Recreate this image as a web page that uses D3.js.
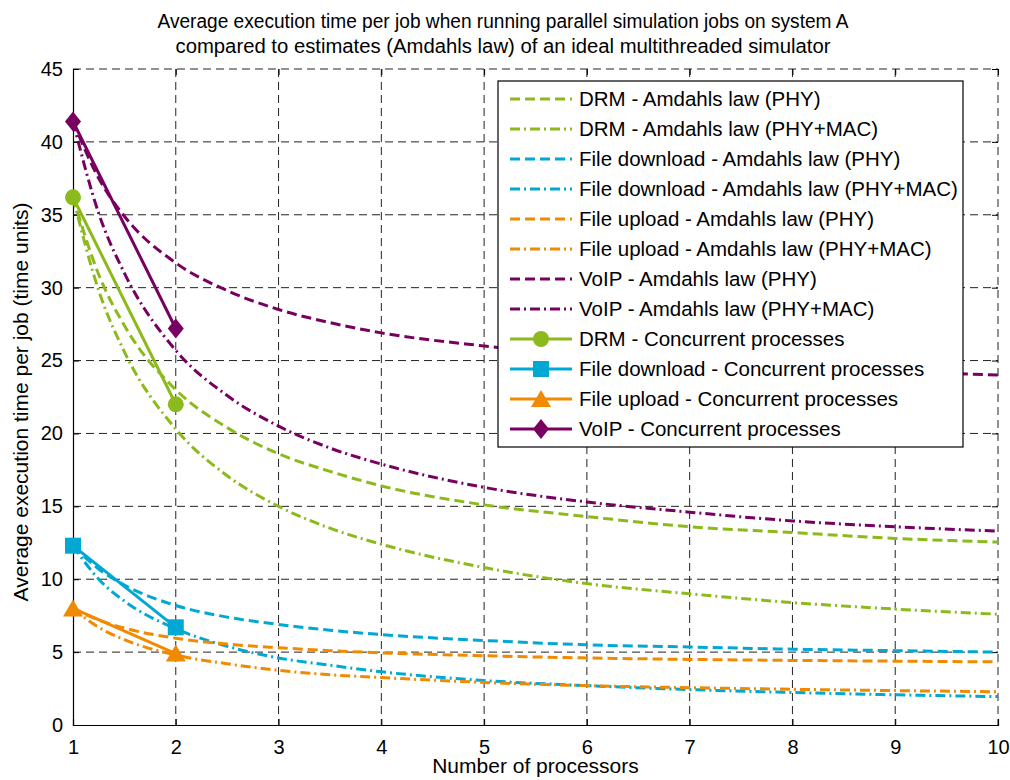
<!DOCTYPE html>
<html>
<head>
<meta charset="utf-8">
<script src="https://cdn.jsdelivr.net/npm/d3@7"></script>
<style>
  body { margin: 0; background: #fff; }
  text { font-family: "Liberation Sans", Arial, sans-serif; fill: #000; }
</style>
</head>
<body>
<div id="chart"></div>
<script>
// number of processors where the Amdahl estimates were read
const procs = [1, 1.25, 1.5, 2, 2.5, 3, 3.5, 4, 5, 6, 7, 8, 9, 10];

const drmPhy        = [36.2, 30.9, 27.4, 23.0, 20.4, 18.6, 17.4, 16.4, 15.1, 14.3, 13.6, 13.2, 12.8, 12.55];
const drmPhyMac     = [36.2, 29.8, 25.6, 20.3, 17.1, 15.0, 13.5, 12.4, 10.8, 9.7, 9.0, 8.4, 7.95, 7.6];
const dlPhy         = [12.3, 10.7, 9.6, 8.2, 7.4, 6.9, 6.5, 6.2, 5.8, 5.5, 5.35, 5.2, 5.1, 5.0];
const dlPhyMac      = [12.3, 10.0, 8.5, 6.6, 5.4, 4.6, 4.1, 3.65, 3.05, 2.7, 2.43, 2.23, 2.07, 1.95];
const ulPhy         = [8.0, 7.2, 6.65, 5.95, 5.55, 5.3, 5.1, 4.95, 4.75, 4.6, 4.5, 4.43, 4.38, 4.33];
const ulPhyMac      = [8.0, 6.7, 5.85, 4.8, 4.2, 3.75, 3.45, 3.25, 2.92, 2.7, 2.56, 2.45, 2.36, 2.28];
const voipPhy       = [41.4, 37.5, 34.9, 31.7, 29.8, 28.5, 27.6, 26.9, 26.0, 25.3, 24.9, 24.5, 24.25, 24.0];
const voipPhyMac    = [41.4, 35.1, 31.0, 25.7, 22.6, 20.5, 19.0, 17.9, 16.3, 15.3, 14.6, 14.0, 13.6, 13.3];

// measured runs with concurrent processes
const concProcs = [1, 2];
const drmConc   = [36.2, 22.0];
const dlConc    = [12.3, 6.7];
const ulConc    = [8.0, 4.9];
const voipConc  = [41.4, 27.2];

const xTicks = [1, 2, 3, 4, 5, 6, 7, 8, 9, 10];
const yTicks = [0, 5, 10, 15, 20, 25, 30, 35, 40, 45];

const titleLines = [
    "Average execution time per job when running parallel simulation jobs on system A",
    "compared to estimates (Amdahls law) of an ideal multithreaded simulator"
];

const green = "#8cb91b", cyan = "#00a8d3", orange = "#f08a00", purple = "#780060";
const dashed = "10,5", dashDot = "10,4,2,4";

const estimates = [
    { name: "DRM - Amdahls law (PHY)", values: drmPhy, color: green, dash: dashed },
    { name: "DRM - Amdahls law (PHY+MAC)", values: drmPhyMac, color: green, dash: dashDot },
    { name: "File download - Amdahls law (PHY)", values: dlPhy, color: cyan, dash: dashed },
    { name: "File download - Amdahls law (PHY+MAC)", values: dlPhyMac, color: cyan, dash: dashDot },
    { name: "File upload - Amdahls law (PHY)", values: ulPhy, color: orange, dash: dashed },
    { name: "File upload - Amdahls law (PHY+MAC)", values: ulPhyMac, color: orange, dash: dashDot },
    { name: "VoIP - Amdahls law (PHY)", values: voipPhy, color: purple, dash: dashed },
    { name: "VoIP - Amdahls law (PHY+MAC)", values: voipPhyMac, color: purple, dash: dashDot }
];

const measured = [
    { name: "DRM - Concurrent processes", values: drmConc, color: green, marker: "circle" },
    { name: "File download - Concurrent processes", values: dlConc, color: cyan, marker: "square" },
    { name: "File upload - Concurrent processes", values: ulConc, color: orange, marker: "triangle" },
    { name: "VoIP - Concurrent processes", values: voipConc, color: purple, marker: "diamond" }
];

const width = 1010, height = 780;
const margin = { top: 69, right: 12, bottom: 55, left: 73 };
const innerWidth = width - margin.left - margin.right;
const innerHeight = height - margin.top - margin.bottom;

const svg = d3.select("#chart")
              .append("svg")
              .attr("width", width)
              .attr("height", height);

const inner = svg.append("g")
                 .attr("transform", `translate(${margin.left}, ${margin.top})`);

const xScale = d3.scaleLinear().domain([1, 10]).range([0, innerWidth]);
const yScale = d3.scaleLinear().domain([0, 45]).range([innerHeight, 0]);

// grid
inner.append("g")
     .selectAll("line")
     .data(xTicks.slice(1))
     .join("line")
     .attr("x1", d => xScale(d))
     .attr("x2", d => xScale(d))
     .attr("y1", 0)
     .attr("y2", innerHeight)
     .attr("stroke", "#222")
     .attr("stroke-width", 1)
     .attr("stroke-dasharray", "8,5");

inner.append("g")
     .selectAll("line")
     .data(yTicks.slice(1))
     .join("line")
     .attr("x1", 0)
     .attr("x2", innerWidth)
     .attr("y1", d => yScale(d))
     .attr("y2", d => yScale(d))
     .attr("stroke", "#222")
     .attr("stroke-width", 1)
     .attr("stroke-dasharray", "8,5");

// axes (ticks inside, on all four sides)
const xAxis = inner.append("g")
                   .attr("transform", `translate(0, ${innerHeight})`)
                   .call(d3.axisBottom(xScale).tickValues(xTicks).tickSize(-6).tickPadding(15));
const xTop = inner.append("g")
                  .call(d3.axisTop(xScale).tickValues(xTicks).tickSize(-6));
const yAxis = inner.append("g")
                   .call(d3.axisLeft(yScale).tickValues(yTicks).tickSize(-6).tickPadding(10));
const yRight = inner.append("g")
                    .attr("transform", `translate(${innerWidth}, 0)`)
                    .call(d3.axisRight(yScale).tickValues(yTicks).tickSize(-6));

[xAxis, yAxis].forEach(g => g.selectAll("text").style("font-size", "20px"));
[xTop, yRight].forEach(g => {
    g.selectAll("text").remove();
    g.select(".domain").remove();
});
[xAxis, xTop, yAxis, yRight].forEach(g => g.selectAll(".tick line").attr("stroke", "#000"));
xAxis.select(".domain").attr("stroke", "#000").attr("stroke-width", 1.2);
yAxis.select(".domain").attr("stroke", "#000").attr("stroke-width", 1.2);

// Amdahl estimates
const estLine = d3.line()
                  .x((d, i) => xScale(procs[i]))
                  .y(d => yScale(d))
                  .curve(d3.curveMonotoneX);

inner.append("g")
     .selectAll("path")
     .data(estimates)
     .join("path")
     .attr("d", d => estLine(d.values))
     .attr("fill", "none")
     .attr("stroke", d => d.color)
     .attr("stroke-width", 3)
     .attr("stroke-dasharray", d => d.dash);

// measured concurrent processes
const concLine = d3.line()
                   .x((d, i) => xScale(concProcs[i]))
                   .y(d => yScale(d));

const markerPath = (type) => {
    if (type === "circle") return "M-8,0A8,8 0 1,0 8,0A8,8 0 1,0 -8,0Z";
    if (type === "square") return "M-8,-8H8V8H-8Z";
    if (type === "triangle") return "M0,-9L10,8H-10Z";
    return "M0,-10L8,0L0,10L-8,0Z";
};

const measG = inner.append("g");
measured.forEach(s => {
    measG.append("path")
         .attr("d", concLine(s.values))
         .attr("fill", "none")
         .attr("stroke", s.color)
         .attr("stroke-width", 3);
    measG.selectAll(null)
         .data(s.values)
         .join("path")
         .attr("transform", (d, i) => `translate(${xScale(concProcs[i])}, ${yScale(d)})`)
         .attr("d", markerPath(s.marker))
         .attr("fill", s.color);
});

// legend
const legend = svg.append("g")
                  .attr("transform", "translate(498, 81)");

legend.append("rect")
      .attr("width", 465)
      .attr("height", 366)
      .attr("fill", "#fff")
      .attr("stroke", "#000")
      .attr("stroke-width", 1.2);

const entries = estimates.concat(measured);

const entry = legend.selectAll("g.entry")
                    .data(entries)
                    .join("g")
                    .attr("class", "entry")
                    .attr("transform", (d, i) => `translate(0, ${18 + i * 30})`);

entry.append("line")
     .attr("x1", 12)
     .attr("x2", 74)
     .attr("stroke", d => d.color)
     .attr("stroke-width", 3)
     .attr("stroke-dasharray", d => d.dash || null);

entry.filter(d => d.marker)
     .append("path")
     .attr("transform", "translate(43, 0)")
     .attr("d", d => markerPath(d.marker))
     .attr("fill", d => d.color);

entry.append("text")
     .attr("x", 81)
     .attr("y", 7)
     .text(d => d.name)
     .style("font-size", "20.5px");

// title and axis labels
svg.selectAll("text.title")
   .data(titleLines)
   .join("text")
   .attr("class", "title")
   .attr("x", 503)
   .attr("y", (d, i) => 28 + i * 25)
   .attr("text-anchor", "middle")
   .attr("textLength", (d, i) => i === 0 ? 691 : 655)
   .attr("lengthAdjust", "spacingAndGlyphs")
   .style("font-size", "19.5px")
   .text(d => d);

svg.append("text")
   .attr("x", margin.left + innerWidth / 2)
   .attr("y", 773)
   .attr("text-anchor", "middle")
   .style("font-size", "21px")
   .text("Number of processors");

svg.append("text")
   .attr("transform", `translate(28, ${margin.top + innerHeight / 2 + 5}) rotate(-90)`)
   .attr("text-anchor", "middle")
   .style("font-size", "21px")
   .text("Average execution time per job (time units)");
</script>
</body>
</html>
